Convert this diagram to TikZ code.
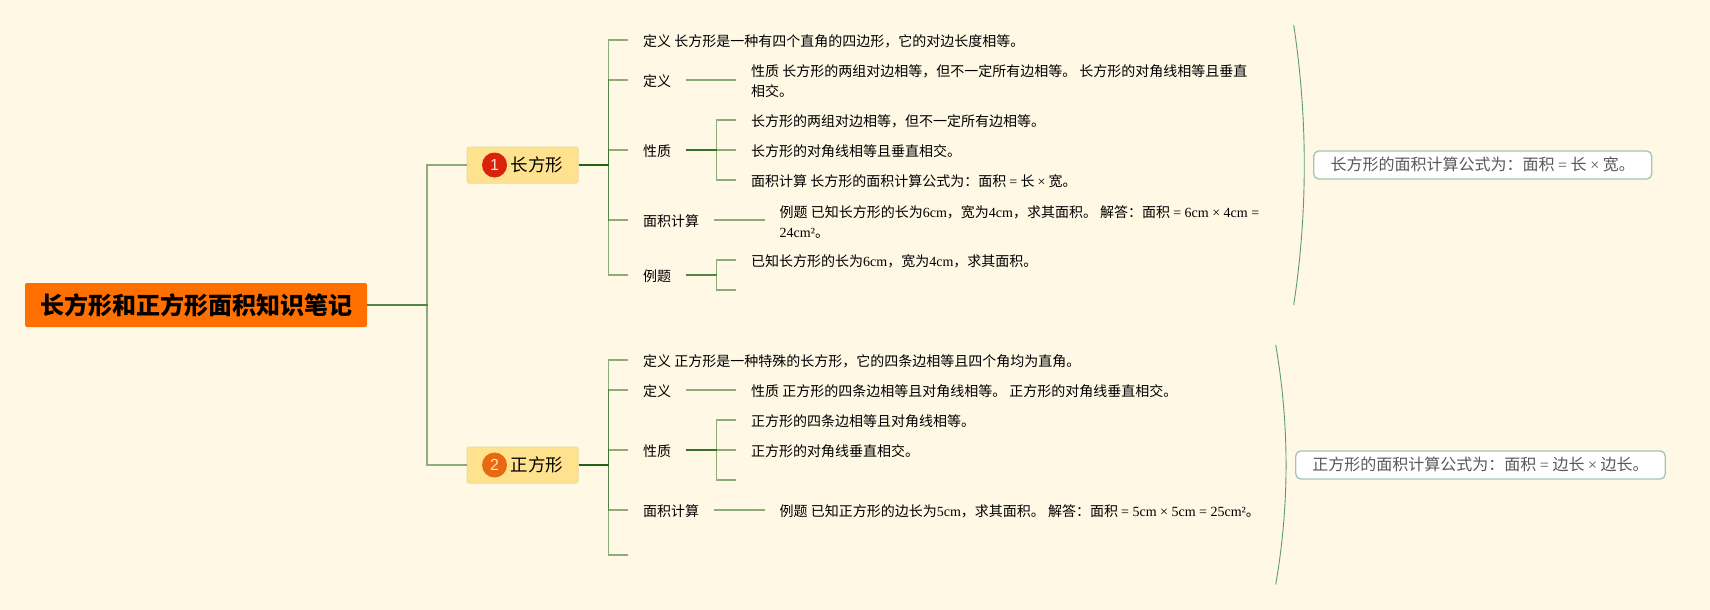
\documentclass[tikz,border=0pt]{standalone}
\usepackage{fontspec}
\setmainfont{Noto Sans CJK SC}
\newfontfamily\latfont{Liberation Serif}
\newfontfamily\numfont{Liberation Sans}
\newcommand{\en}[1]{{\latfont #1}}
\definecolor{paper}{HTML}{FFF8E5}
\definecolor{linkgreen}{HTML}{1E6010}
\definecolor{notegreen}{HTML}{5F9A80}
\definecolor{rootorange}{HTML}{FF7000}
\definecolor{branchyellow}{HTML}{FFE28E}
\definecolor{branchedge}{HTML}{E8DCA0}
\definecolor{noteedge}{HTML}{A5C4B5}
\definecolor{badgered}{HTML}{D9230C}
\definecolor{badgeorange}{HTML}{E86A10}
\definecolor{badgetext}{HTML}{FFE3C8}
\tikzset{
  link/.style={draw=linkgreen,draw opacity=0.5,line width=1.8pt},
  rootbox/.style={fill=rootorange,rounded corners=2pt,minimum width=342pt,minimum height=44pt,inner sep=0pt,font=\fontsize{24}{30}\selectfont\bfseries},
  branchbox/.style={fill=branchyellow,draw=branchedge,line width=1pt,rounded corners=1.5pt,minimum width=111pt,minimum height=36pt,inner sep=0pt,font=\fontsize{17.5}{21}\selectfont},
  badge/.style={circle,minimum size=25pt,inner sep=0pt,text=badgetext,font=\numfont\fontsize{16}{18}\selectfont},
  leaftwo/.style={anchor=west,inner xsep=15pt,inner ysep=2pt,align=left,font=\fontsize{14}{20}\selectfont},
  leaf/.style={leaftwo,text height=15pt,text depth=2pt},
  notebox/.style={fill=white,draw=noteedge,line width=1.3pt,rounded corners=5pt,inner xsep=16pt,inner ysep=0pt,minimum height=28pt,text height=14pt,text depth=3pt,text=black!65,font=\fontsize{16}{20}\selectfont},
  arcline/.style={draw=notegreen,line width=0.9pt},
}
\begin{document}
\begin{tikzpicture}[x=1pt,y=-1pt]
  \useasboundingbox[fill=paper] (0,0) rectangle (1710,610);

  \node[rootbox] (root) at (196,305) {长方形和正方形面积知识笔记};
  \node[branchbox] (rect) at (522.5,165) {\hspace*{29pt}长方形};
  \node[branchbox] (square) at (522.5,465) {\hspace*{29pt}正方形};
  \node[badge,fill=badgered] (rectnum) at (494.5,165) {1};
  \node[badge,fill=badgeorange] (squarenum) at (494.5,465) {2};

  % upper branch
  \node[leaf] (rdef) at (628,40) {定义 长方形是一种有四个直角的四边形，它的对边长度相等。};
  \node[leaf] (rdefi) at (628,80) {定义};
  \node[leaf] (rprop) at (628,150) {性质};
  \node[leaf] (rarea) at (628,220) {面积计算};
  \node[leaf] (rexam) at (628,275) {例题};
  \node[leaftwo] (rdefa) at (736,81.5) {性质 长方形的两组对边相等，但不一定所有边相等。 长方形的对角线相等且垂直\\相交。};
  \node[leaf] (rpropa) at (736,120) {长方形的两组对边相等，但不一定所有边相等。};
  \node[leaf] (rpropb) at (736,150) {长方形的对角线相等且垂直相交。};
  \node[leaf] (rpropc) at (736,180) {面积计算 长方形的面积计算公式为：面积 \en{=} 长 \en{×} 宽。};
  \node[leaftwo] (rareaa) at (764.5,221.5) {例题 已知长方形的长为\en{6cm}，宽为\en{4cm}，求其面积。 解答：面积 \en{= 6cm × 4cm =}\\\en{24cm²}。};
  \node[leaf] (rexama) at (736,260) {已知长方形的长为\en{6cm}，宽为\en{4cm}，求其面积。};
  \coordinate (rexamb) at (736,290);

  % lower branch
  \node[leaf] (sdef) at (628,360) {定义 正方形是一种特殊的长方形，它的四条边相等且四个角均为直角。};
  \node[leaf] (sdefi) at (628,390) {定义};
  \node[leaf] (sprop) at (628,450) {性质};
  \node[leaf] (sarea) at (628,510) {面积计算};
  \coordinate (sempty) at (628,555);
  \node[leaf] (sdefa) at (736,390) {性质 正方形的四条边相等且对角线相等。 正方形的对角线垂直相交。};
  \node[leaf] (spropa) at (736,420) {正方形的四条边相等且对角线相等。};
  \node[leaf] (spropb) at (736,450) {正方形的对角线垂直相交。};
  \coordinate (spropc) at (736,480);
  \node[leaf] (sareaa) at (764.5,510) {例题 已知正方形的边长为\en{5cm}，求其面积。 解答：面积 \en{= 5cm × 5cm = 25cm²}。};

  % the lines overlap, which makes them darker near a parent
  \foreach \c in {rect,square} {
    \draw[link] (root.east) -- ++(60,0) |- (\c.west);
  }
  \foreach \c in {rdef,rdefi,rprop,rarea,rexam} {
    \draw[link] (rect.east) -- ++(30,0) |- (\c.west);
  }
  \foreach \c in {sdef,sdefi,sprop,sarea,sempty} {
    \draw[link] (square.east) -- ++(30,0) |- (\c);
  }
  \foreach \c in {rpropa,rpropb,rpropc} {
    \draw[link] (rprop.east) -- ++(30,0) |- (\c.west);
  }
  \foreach \c in {rexama,rexamb} {
    \draw[link] (rexam.east) -- ++(30,0) |- (\c);
  }
  \foreach \c in {spropa,spropb,spropc} {
    \draw[link] (sprop.east) -- ++(30,0) |- (\c);
  }
  \draw[link] (rdefi.east) -- (rdefi.east -| rdefa.west);
  \draw[link] (rarea.east) -- (rarea.east -| rareaa.west);
  \draw[link] (sdefi.east) -- (sdefa.west);
  \draw[link] (sarea.east) -- (sareaa.west);

  % summaries
  \coordinate (rtop) at (1293.7,25);
  \coordinate (rbot) at (1293.7,305);
  \coordinate (rbenda) at (1307.8,118);
  \coordinate (rbendb) at (1307.8,212);
  \coordinate (stop) at (1275.7,345);
  \coordinate (sbot) at (1275.7,584.5);
  \coordinate (sbenda) at (1289.5,425);
  \coordinate (sbendb) at (1289.5,505);
  \draw[arcline] (rtop) .. controls (rbenda) and (rbendb) .. (rbot);
  \draw[arcline] (stop) .. controls (sbenda) and (sbendb) .. (sbot);
  \node[notebox,minimum width=338pt] (rnote) at (1482.7,165) {长方形的面积计算公式为：面积 \en{=} 长 \en{×} 宽。};
  \node[notebox,minimum width=369.5pt] (snote) at (1480.5,465) {正方形的面积计算公式为：面积 \en{=} 边长 \en{×} 边长。};
\end{tikzpicture}
\end{document}
